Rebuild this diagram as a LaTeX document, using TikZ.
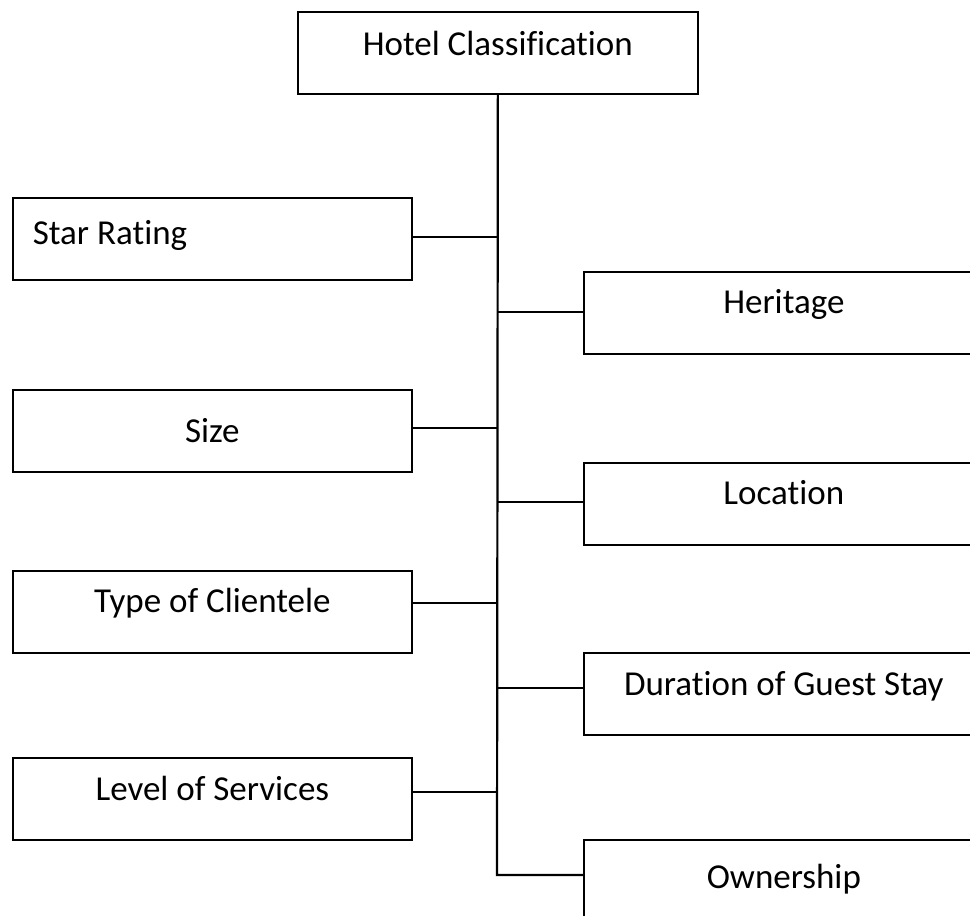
\documentclass[tikz,border=0pt]{standalone}
\usepackage{fontspec}
\setmainfont{Carlito}[Ligatures={NoCommon,NoContextual}]
\begin{document}
\begin{tikzpicture}[x=1pt,y=-1pt,
  % #1 = baseline distance from the top edge, #2 = the rest of the 82pt height
  box/.style 2 args={draw, line width=1.7pt, inner sep=0pt, anchor=north west,
    minimum width=400pt, text height=#1, text depth=#2,
    font=\fontsize{35pt}{42pt}\selectfont},
  link/.style={line width=1.7pt},
  trunk/.style={line width=2.2pt}]
\useasboundingbox (0,0) rectangle (970,916);

% root
\node[box={44pt}{38pt}] (root) at (297,11) {Hotel Classification};

% left column
\node[box={47pt}{35pt}, minimum width=399pt]
  (star) at (12,197) {\makebox[359pt][l]{Star Rating}};
\node[box={53pt}{29pt}, minimum width=399pt] (size) at (12,389) {Size};
\node[box={42pt}{40pt}, minimum width=399pt] (client) at (12,570) {Type of Clientele};
\node[box={43pt}{39pt}, minimum width=399pt] (service) at (12,757) {Level of Services};

% right column
\node[box={42pt}{40pt}] (heritage) at (583,271) {Heritage};
\node[box={42pt}{40pt}] (location) at (583,462) {Location};
\node[box={43pt}{39pt}] (duration) at (583,652) {Duration of Guest Stay};
\node[box={49pt}{33pt}] (owner) at (583,839) {Ownership};

% junctions on the trunk
\coordinate (jstar) at (497,237);
\coordinate (jher) at (497,312);
\coordinate (jsize) at (497,428);
\coordinate (jloc) at (497,502);
\coordinate (jclient) at (497,603);
\coordinate (jdur) at (497,688);
\coordinate (jserv) at (497,792);
\coordinate (jown) at (497,875);

% trunk and branches
\draw[trunk] (root.south) -- (jown) -- (owner.west |- jown);
\draw[link] (star.east |- jstar) -- (jstar);
\draw[link] (size.east |- jsize) -- (jsize);
\draw[link] (client.east |- jclient) -- (jclient);
\draw[link] (service.east |- jserv) -- (jserv);
\draw[link] (jher) -- (heritage.west |- jher);
\draw[link] (jloc) -- (location.west |- jloc);
\draw[link] (jdur) -- (duration.west |- jdur);
\end{tikzpicture}
\end{document}
